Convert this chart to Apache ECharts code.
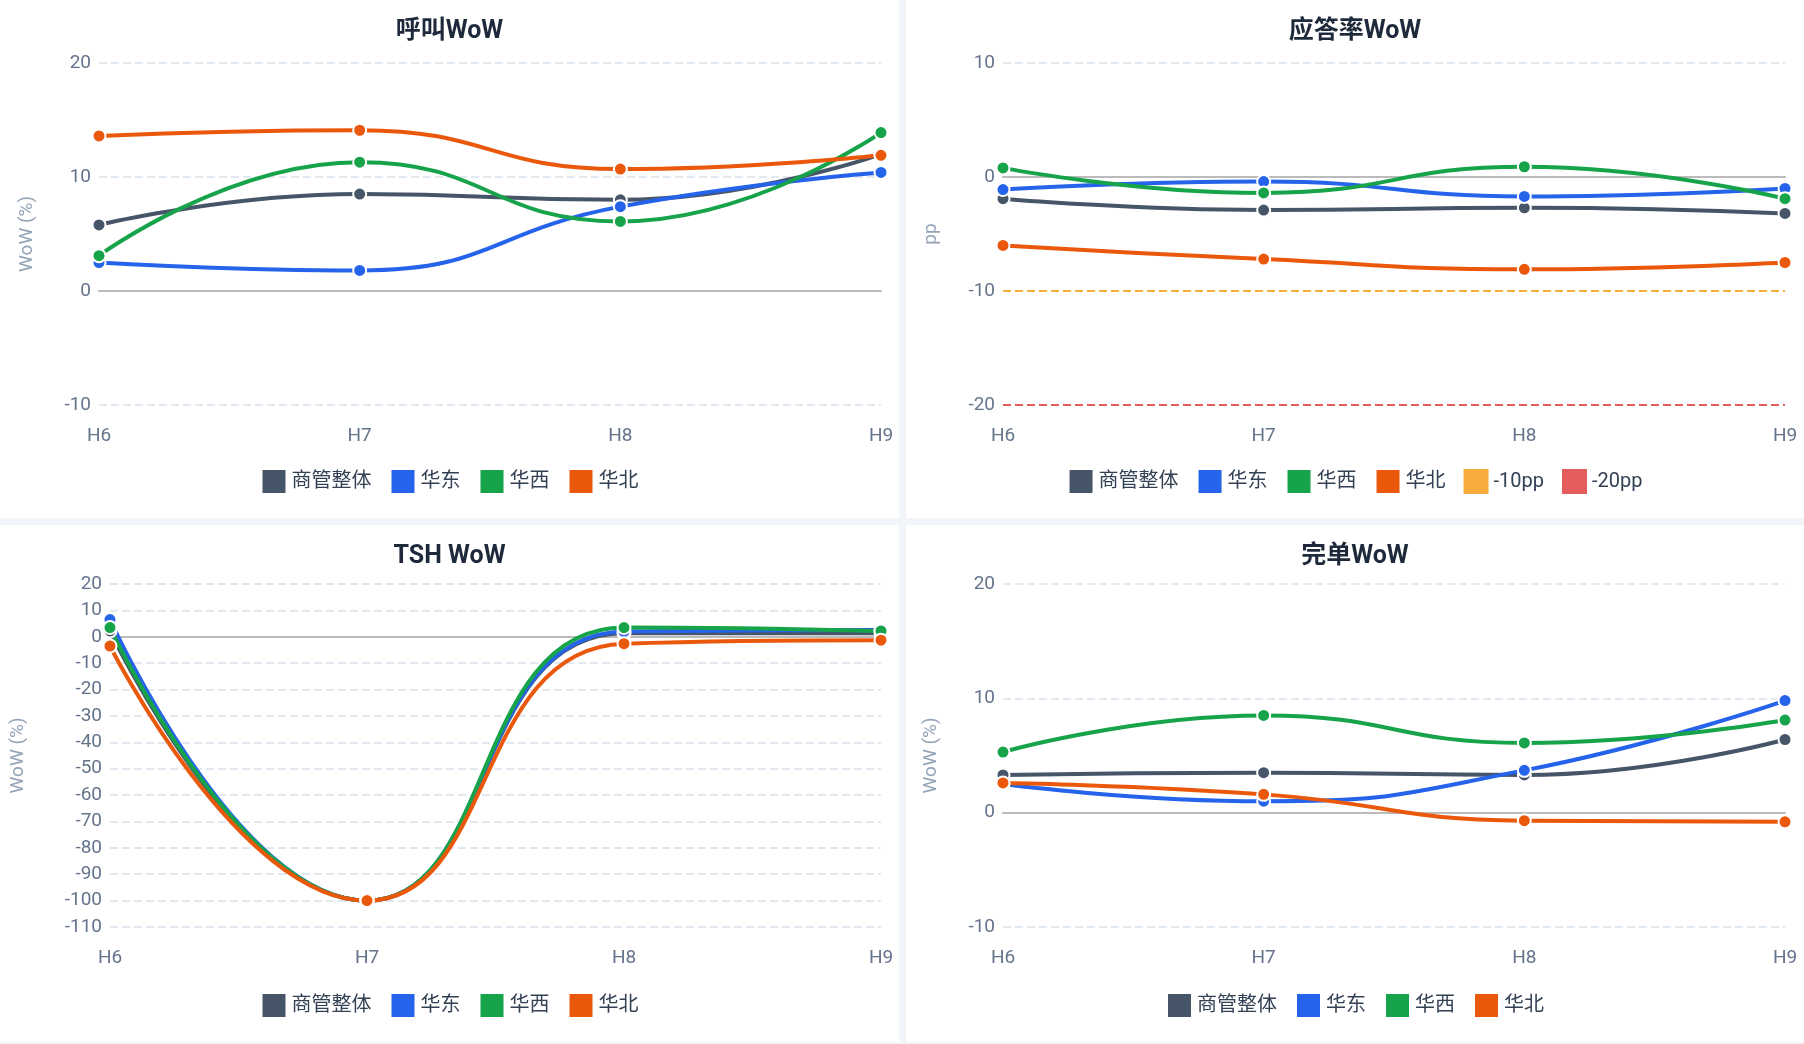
<!DOCTYPE html>
<html><head><meta charset="utf-8">
<script src="https://cdn.jsdelivr.net/npm/echarts@6/dist/echarts.min.js"></script>
<style>
html,body{margin:0;padding:0;background:#f1f5f9;}
#wrap{display:grid;grid-template-columns:899px 898px;grid-template-rows:518px 517px;gap:7px 7px;width:1804px;height:1044px;}
.p{background:#fff;width:100%;height:100%;}
</style></head>
<body><div id="wrap"><div class="p" id="c1"></div><div class="p" id="c2"></div><div class="p" id="c3"></div><div class="p" id="c4"></div></div>
<script>
var hours = ['H6', 'H7', 'H8', 'H9'];
var names = ['商管整体', '华东', '华西', '华北'];
var colors = ['#475569', '#2563eb', '#16a34a', '#ea580c'];

// 呼叫WoW
var callAll = [5.8, 8.5, 8.0, 12.0];
var callEast = [2.5, 1.8, 7.4, 10.4];
var callWest = [3.1, 11.3, 6.1, 13.9];
var callNorth = [13.6, 14.1, 10.7, 11.9];
// 应答率WoW
var ansAll = [-1.9, -2.9, -2.7, -3.2];
var ansEast = [-1.1, -0.4, -1.7, -1.0];
var ansWest = [0.8, -1.4, 0.9, -1.9];
var ansNorth = [-6.0, -7.2, -8.1, -7.5];
var ref10 = [-10, -10, -10, -10];
var ref20 = [-20, -20, -20, -20];
// TSH WoW
var tshAll = [2.2, -100, 1.3, 1.3];
var tshEast = [6.5, -100, 2.0, 2.6];
var tshWest = [3.5, -100, 3.5, 2.2];
var tshNorth = [-3.5, -100, -2.6, -1.3];
// 完单WoW
var doneAll = [3.3, 3.5, 3.3, 6.4];
var doneEast = [2.5, 1.0, 3.7, 9.8];
var doneWest = [5.3, 8.5, 6.1, 8.1];
var doneNorth = [2.6, 1.6, -0.7, -0.8];

var font = 'Roboto, "Noto Sans CJK SC", sans-serif';

function lines(arrs) {
    return arrs.map(function (d, i) {
        return {
            name: names[i], type: 'line', smooth: true, data: d,
            symbol: 'circle', symbolSize: 13,
            lineStyle: {width: 4, color: colors[i]},
            itemStyle: {color: colors[i], borderColor: '#fff', borderWidth: 2}
        };
    });
}

function build(id, title, arrs, y, grid, extra, yname, nameGap) {
    var series = lines(arrs).concat(extra || []);
    var chart = echarts.init(document.getElementById(id));
    chart.setOption({
        textStyle: {fontFamily: font},
        title: {text: title, left: 'center', top: 14, textStyle: {fontSize: 25, fontWeight: 'bold', color: '#1e293b', fontFamily: font}},
        legend: {bottom: 18, itemWidth: 25, itemHeight: 25, itemGap: 18, icon: 'rect',
            textStyle: {fontSize: 20, color: '#334155', fontFamily: font},
            data: series.map(function (s) { return s.name; })},
        grid: grid,
        xAxis: {type: 'category', data: hours, boundaryGap: false,
            axisLine: {lineStyle: {color: '#bbb', width: 2}}, axisTick: {show: false},
            axisLabel: {fontSize: 19, color: '#64748b', margin: 22}},
        yAxis: {type: 'value', min: y[0], max: y[1], interval: y[2],
            name: yname, nameLocation: 'middle', nameGap: nameGap,
            nameTextStyle: {fontSize: 19, color: '#94a3b8'},
            axisLabel: {fontSize: 19, color: '#64748b'},
            splitLine: {lineStyle: {type: 'dashed', color: '#e2e8f0', width: 2}}},
        series: series
    });
}

function refLine(name, d, color) {
    return {name: name, type: 'line', data: d, symbol: 'none', silent: true,
        lineStyle: {type: 'dashed', width: 2, color: color}, itemStyle: {color: color}};
}

build('c1', '呼叫WoW', [callAll, callEast, callWest, callNorth], [-10, 20, 10],
    {left: 99, right: 18, top: 63, bottom: 113}, null, 'WoW (%)', 62);
build('c2', '应答率WoW', [ansAll, ansEast, ansWest, ansNorth], [-20, 10, 10],
    {left: 97, right: 19, top: 63, bottom: 113},
    [refLine('-10pp', ref10, '#f6ad3c'), refLine('-20pp', ref20, '#e35d5d')], 'pp', 62);
build('c3', 'TSH WoW', [tshAll, tshEast, tshWest, tshNorth], [-110, 20, 10],
    {left: 110, right: 18, top: 59, bottom: 115}, null, 'WoW (%)', 82);
build('c4', '完单WoW', [doneAll, doneEast, doneWest, doneNorth], [-10, 20, 10],
    {left: 97, right: 19, top: 59, bottom: 115}, null, 'WoW (%)', 62);
</script></body></html>
